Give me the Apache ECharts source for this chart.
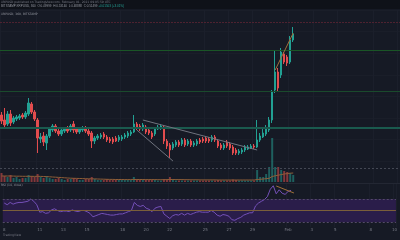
<!DOCTYPE html>
<html><head><meta charset="utf-8">
<script src="https://cdn.jsdelivr.net/npm/echarts@6/dist/echarts.min.js"></script>
<style>html,body{margin:0;padding:0;background:#161a25}#c{width:400px;height:240px}</style>
</head><body><div id="c"></div>
<script>
// 6h candles, XRP/USD, starting 2021-01-08 00:00, axis continues to 2021-02-10
const startDate = Date.UTC(2021, 0, 8, 0);
const slotCount = 133;
const categories = [];
for (let i = 0; i < slotCount; i++) {
  const d = new Date(startDate + i * 6 * 3600 * 1000);
  categories.push(d.toISOString().slice(0, 13).replace('T', ' ') + ':00');
}
const tickLabels = ['8','11','13','15','18','20','22','25','27','29','Feb','3','5','8','10'];
const tickDates = ['2021-01-08','2021-01-11','2021-01-13','2021-01-15','2021-01-18','2021-01-20','2021-01-22','2021-01-25','2021-01-27','2021-01-29','2021-02-01','2021-02-03','2021-02-05','2021-02-08','2021-02-10'];

const opens = [.3370,.3260,.3172,.3392,.3216,.3282,.3304,.3370,.3326,.3392,
.3612,.3436,.3260,.2842,.2908,.2754,.2908,.3040,.3128,.3018,
.2952,.3018,.3084,.3040,.3172,.3062,.2996,.3040,.3084,.3018,
.2974,.2798,.2864,.2886,.2952,.2886,.2842,.2842,.2864,.2820,
.2842,.2886,.2908,.2952,.2996,.3172,.3128,.3062,.3106,.3040,
.2974,.2952,.3062,.3084,.3106,.2798,.2710,.2644,.2710,.2776,
.2732,.2820,.2732,.2798,.2710,.2732,.2820,.2842,.2864,.2842,
.2820,.2886,.2798,.2710,.2644,.2776,.2732,.2666,.2600,.2534,
.2556,.2600,.2622,.2644,.2688,.2666,.2820,.2886,.2952,.3040,
.3260,.3920,.4316,.4250,.4712,.4646,.4536,.5020];
const closes = [.3238,.3150,.3392,.3194,.3304,.3326,.3348,.3326,.3414,.3634,
.3436,.3282,.2864,.2886,.2776,.2908,.3062,.3128,.3018,.2952,
.3040,.3062,.3018,.3128,.3040,.2996,.3062,.3084,.3018,.2952,
.2798,.2864,.2908,.2930,.2886,.2820,.2798,.2776,.2798,.2886,
.2886,.2930,.2974,.2996,.3172,.3084,.3062,.3150,.2996,.2974,
.2886,.3062,.3106,.3128,.2798,.2688,.2600,.2732,.2776,.2710,
.2820,.2710,.2798,.2710,.2754,.2798,.2776,.2798,.2798,.2798,
.2886,.2820,.2688,.2644,.2710,.2688,.2644,.2534,.2534,.2578,
.2600,.2666,.2666,.2688,.2666,.2820,.2908,.2974,.3062,.3260,
.3876,.4316,.3964,.4756,.4536,.4514,.5020,.5152];
const lows = [.3172,.3106,.3128,.3128,.3172,.3238,.3260,.3282,.3282,.3348,
.3392,.3238,.2534,.2754,.2688,.2600,.2864,.2996,.2974,.2908,
.2908,.2974,.2974,.2996,.2974,.2952,.2952,.2996,.2974,.2908,
.2644,.2732,.2820,.2842,.2842,.2776,.2754,.2732,.2776,.2776,
.2798,.2842,.2864,.2908,.2974,.3040,.3018,.3018,.2952,.2930,
.2842,.2908,.3040,.3040,.2732,.2622,.2424,.2600,.2666,.2666,
.2688,.2666,.2688,.2666,.2666,.2688,.2732,.2754,.2754,.2754,
.2776,.2776,.2644,.2600,.2600,.2644,.2600,.2490,.2490,.2490,
.2512,.2556,.2600,.2622,.2622,.2644,.2776,.2864,.2908,.2996,
.3194,.3854,.3876,.4184,.4492,.4448,.4492,.4976];
const highs = [.3436,.3524,.3458,.3480,.3348,.3370,.3392,.3414,.3458,.3744,
.3656,.3480,.3304,.2974,.2996,.2952,.3106,.3172,.3172,.3062,
.3084,.3106,.3128,.3172,.3238,.3106,.3106,.3128,.3128,.3062,
.3018,.2908,.2952,.2974,.2996,.2930,.2886,.2886,.2908,.2930,
.2930,.2974,.3018,.3040,.3370,.3216,.3172,.3194,.3150,.3084,
.3018,.3106,.3150,.3172,.3150,.2842,.2754,.2776,.2820,.2820,
.2864,.2864,.2842,.2842,.2798,.2842,.2864,.2886,.2908,.2886,
.2930,.2930,.2842,.2754,.2754,.2820,.2776,.2710,.2644,.2622,
.2644,.2710,.2710,.2732,.2732,.3260,.2974,.3106,.3150,.3326,
.3920,.4800,.4404,.4844,.4756,.4690,.5108,.5306];
// volume (millions, approximate)
const volumes = [90,60,50,70,40,50,30,40,40,70,
60,50,80,50,40,60,40,30,30,40,
30,20,30,30,40,30,20,20,30,30,
50,30,20,20,20,30,20,20,20,20,
20,20,20,20,50,30,20,20,20,20,
20,20,15,15,30,25,50,20,15,15,
15,15,15,15,15,15,15,15,15,15,
15,15,20,15,15,15,15,25,20,15,
15,15,15,15,15,120,50,50,80,150,
440,150,150,120,110,100,90,70];
const volumeMA = [60,60,60,60,59,58,58,57,57,57,
57,56,57,56,55,54,52,50,48,46,
44,42,40,38,37,36,35,34,33,32,
32,31,30,29,28,27,26,26,25,25,
25,24,24,24,25,25,25,25,24,24,
24,24,23,23,23,24,25,25,24,24,
24,23,23,22,22,22,21,21,21,21,
21,21,20,20,20,20,20,20,20,20,
20,20,20,20,20,25,27,30,33,37,
55,62,68,74,80,84,88,90];
const rsi = [63,60,64,61,63,64,64,65,66,70,
66,60,47,48,45,46,51,53,50,48,
49,49,48,51,49,48,50,50,48,45,
39,41,43,45,44,43,42,42,43,44,
44,46,48,50,64,59,57,59,54,52,
48,54,56,57,44,40,36,41,43,42,
45,42,45,43,45,47,48,47,47,47,
50,47,42,40,43,42,40,34,33,36,
38,42,44,46,46,58,63,66,69,74,
87,93,79,86,80,78,83,85];
// horizontal levels and trendlines (price units)
const levelRed = 0.5422, levelGreen1 = 0.4800, levelGreen2 = 0.3876, levelTeal = 0.3106, levelDotted = 0.2226;
const trendUpper = [[47, 0.3260], [85, 0.2600]];
const trendLower = [[45, 0.3040], [57, 0.2358]];
const trendSpike = [[91, 0.4360], [97, 0.5174]];
const rsiTrend = [[92, 92.6], [98, 80.4]];

const candleData = opens.map((o, i) => [o, closes[i], lows[i], highs[i]]);
const volData = volumes.map((v, i) => ({
  value: v,
  itemStyle: { color: closes[i] >= opens[i] ? 'rgba(38,166,154,0.5)' : 'rgba(239,83,80,0.5)' }
}));

function showTick(idx, val) {
  const v = categories[idx];
  return v.slice(11, 13) === '00' && tickDates.indexOf(v.slice(0, 10)) >= 0;
}
function tickText(val) {
  const k = tickDates.indexOf(val.slice(0, 10));
  return k >= 0 ? tickLabels[k] : '';
}

const chart = echarts.init(document.getElementById('c'), null, { renderer: 'canvas' });
const vSplit = { show: true, interval: showTick, lineStyle: { color: '#1b1f2b', width: 1 } };
chart.setOption({
  backgroundColor: '#161a25',
  animation: false,
  grid: [
    { left: 0, right: 0, top: 10, height: 173 },
    { left: 0, right: 0, top: 130, height: 52 },
    { left: 0, right: 0, top: 183, height: 44 }
  ],
  xAxis: [
    { type: 'category', gridIndex: 0, data: categories, boundaryGap: true, axisLine: { show: false }, axisTick: { show: false }, axisLabel: { show: false }, splitLine: vSplit },
    { type: 'category', gridIndex: 1, data: categories, boundaryGap: true, axisLine: { show: false }, axisTick: { show: false }, axisLabel: { show: false }, splitLine: { show: false } },
    { type: 'category', gridIndex: 2, data: categories, boundaryGap: true, axisLine: { show: false }, axisTick: { show: false },
      axisLabel: { show: true, interval: showTick, formatter: tickText, color: '#787b86', fontSize: 4, margin: 1, fontFamily: 'DejaVu Sans' },
      splitLine: vSplit }
  ],
  yAxis: [
    { type: 'value', gridIndex: 0, min: 0.1874, max: 0.568, interval: 0.0476, show: true, axisLine: { show: false }, axisTick: { show: false }, axisLabel: { show: false }, splitLine: { show: true, lineStyle: { color: '#1a1e29' } } },
    { type: 'value', gridIndex: 1, min: 0, max: 520, show: false, splitLine: { show: false } },
    { type: 'value', gridIndex: 2, min: 21.3, max: 97.8, show: false, splitLine: { show: false } }
  ],
  series: [
    {
      type: 'candlestick', xAxisIndex: 0, yAxisIndex: 0, data: candleData, barWidth: 2,
      itemStyle: { color: '#22a093', color0: '#e24c4e', borderColor: '#22a093', borderColor0: '#e24c4e', borderWidth: 1 },
      markLine: {
        silent: true, symbol: 'none', label: { show: false }, animation: false,
        data: [
          { yAxis: levelRed, lineStyle: { color: '#4e2230', type: [2, 1], width: 1 } },
          { yAxis: levelGreen1, lineStyle: { color: '#1a5526', type: 'solid', width: 1 } },
          { yAxis: levelGreen2, lineStyle: { color: '#1a4a2c', type: 'solid', width: 1 } },
          { yAxis: levelTeal, lineStyle: { color: '#1a5a4e', type: 'solid', width: 2 } },
          { yAxis: levelDotted, lineStyle: { color: '#444854', type: [2, 2], width: 1 } },
          [{ coord: trendUpper[0], lineStyle: { color: '#6f737e', type: 'solid', width: 1 } }, { coord: trendUpper[1] }],
          [{ coord: trendLower[0], lineStyle: { color: '#6f737e', type: 'solid', width: 1 } }, { coord: trendLower[1] }],
          [{ coord: trendSpike[0], lineStyle: { color: '#a0703a', type: 'solid', width: 1 } }, { coord: trendSpike[1] }]
        ]
      }
    },
    { type: 'bar', xAxisIndex: 1, yAxisIndex: 1, data: volData, barWidth: 2 },
    { type: 'line', xAxisIndex: 1, yAxisIndex: 1, data: volumeMA, symbol: 'none', lineStyle: { color: '#8e5e38', width: 1 } },
    {
      type: 'line', xAxisIndex: 2, yAxisIndex: 2, data: rsi, symbol: 'none', lineStyle: { color: '#7450b8', width: 1 },
      markArea: { silent: true, itemStyle: { color: '#2a1d4a' }, data: [[{ yAxis: 30 }, { yAxis: 70 }]] },
      markLine: {
        silent: true, symbol: 'none', label: { show: false },
        data: [
          { yAxis: 70, lineStyle: { color: '#544a68', type: [2, 2], width: 1 } },
          { yAxis: 30, lineStyle: { color: '#544a68', type: [2, 2], width: 1 } },
          { yAxis: 50, lineStyle: { color: '#7a5e3a', type: 'solid', width: 1 } },
          [{ coord: rsiTrend[0], lineStyle: { color: '#a0703a', type: 'solid', width: 1 } }, { coord: rsiTrend[1] }]
        ]
      }
    }
  ],
  graphic: [
    { type: 'rect', left: 0, top: 0, shape: { width: 400, height: 9 }, style: { fill: '#0f1219' }, z: 10 },
    { type: 'rect', left: 0, top: 183, shape: { width: 400, height: 1 }, style: { fill: '#232733' }, z: 10 },
    { type: 'text', left: 1, top: 1, z: 11, style: { text: 'XRPUSD published on TradingView.com, February 01, 2021 09:05:59 UTC', fill: '#787b86', fontSize: 3, fontFamily: 'DejaVu Sans' } },
    { type: 'text', left: 1, top: 5, z: 11, style: { text: '{a|BITSTAMP:XRPUSD, 360  O:0.49999  H:0.53140  L:0.48888  C:0.51499}{b| +0.01503 (+3.01%)}', fill: '#9598a1', fontSize: 3, fontFamily: 'DejaVu Sans',
      rich: { a: { fill: '#9598a1', fontSize: 3 }, b: { fill: '#26a69a', fontSize: 3 } } } },
    { type: 'text', left: 1, top: 13, z: 11, style: { text: 'XRPUSD, 360, BITSTAMP', fill: '#9598a1', fontSize: 3, fontFamily: 'DejaVu Sans' } },
    { type: 'text', left: 1, top: 184, z: 11, style: { text: 'RSI (14, close)', fill: '#9598a1', fontSize: 3, fontFamily: 'DejaVu Sans' } },
    { type: 'text', left: 3, top: 234, z: 11, style: { text: 'TradingView', fill: '#787b86', fontSize: 3, fontFamily: 'DejaVu Sans' } }
  ]
});
</script></body></html>
